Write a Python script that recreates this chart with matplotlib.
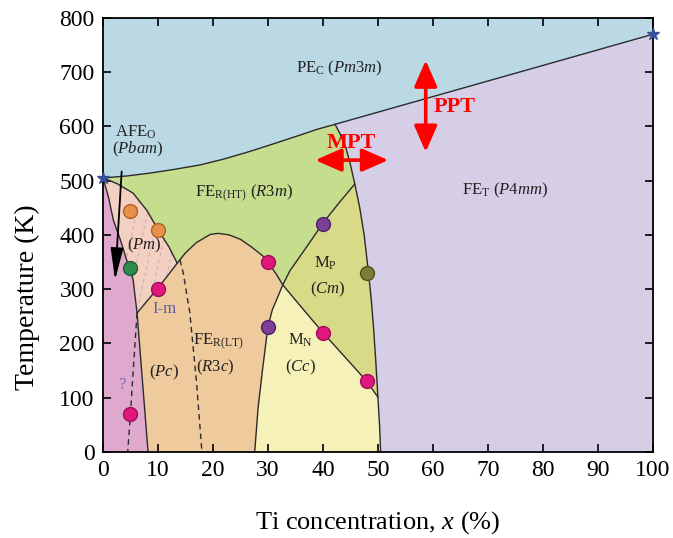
import matplotlib.pyplot as plt
from matplotlib.patches import Polygon

plt.rcParams['font.family'] = ['Liberation Serif', 'DejaVu Serif']
plt.rcParams['mathtext.fontset'] = 'custom'
plt.rcParams['mathtext.rm'] = 'Liberation Serif'
plt.rcParams['mathtext.it'] = 'Liberation Serif:italic'
plt.rcParams['mathtext.bf'] = 'Liberation Serif:bold'

# phase boundaries, Ti concentration (%) vs temperature (K)
cubic_x = [0, 4.5, 8.5, 13, 17.6, 22, 26.7, 31, 35.8, 39, 42.2, 100]
cubic_T = [505, 509, 514, 521, 529, 540, 554, 568, 584, 595, 604, 770]

afe_x = [0, 1.0, 1.9, 3.2, 4.3, 5.1, 5.5, 5.8, 6.2, 7.2, 8.2]
afe_T = [505, 470, 427, 390, 354, 330, 317, 290, 256, 128, 0]

pm_x = [0, 2.5, 5.5, 8, 10, 12, 13.5]
pm_T = [505, 495, 477, 445, 410, 378, 348]

dome_x = [6.2, 8, 10, 12, 13.5, 15, 17, 19.5, 21, 23, 25, 27, 29, 30, 31.5,
          32.7, 35, 40, 44, 48, 50]
dome_T = [256, 278, 302, 328, 348, 367, 386, 401, 403, 400, 392, 378, 362,
          350, 328, 308, 280, 220, 175, 130, 101]

mn_x = [27.6, 28.2, 29, 30, 30.8, 31.8, 32.7, 34, 35.8, 38, 40, 43, 45.8]
mn_T = [0, 80, 150, 231, 262, 286, 308, 334, 360, 392, 422, 460, 494]

fet_x = [42.2, 43.2, 44.2, 45.0, 45.8, 46.7, 47.5, 48.3, 48.8, 49.2, 49.6,
         50, 50.3, 50.5]
fet_T = [604, 585, 560, 530, 494, 450, 400, 330, 280, 230, 170, 101, 50, 0]

# dashed boundaries
dash1_x = [6.2, 5.5, 5.0, 4.5]
dash1_T = [256, 150, 70, 0]
dash2_x = [14.0, 14.6, 15.8, 17.0, 18.0]
dash2_T = [354, 330, 256, 130, 0]

# measured points
dot_x = [5, 10, 5, 10, 5, 30, 40, 48, 40, 30, 48]
dot_T = [445, 410, 340, 300, 70, 350, 220, 130, 420, 230, 330]
dot_c = ['#e8914a', '#e8914a', '#2e8b4e', '#e0177d', '#e0177d', '#e0177d',
         '#e0177d', '#e0177d', '#7b3f98', '#7b3f98', '#7c7c36']
dot_e = ['#b0602a', '#b0602a', '#1d5c33', '#a00d58', '#a00d58', '#a00d58',
         '#a00d58', '#a00d58', '#4e2466', '#4e2466', '#4f4f1e']

star_x = [0, 100]
star_T = [505, 770]


def pts(xs, ts):
    return list(zip(xs, ts))


def seg(c, xa, xb):
    xs = [p[0] for p in c]
    ia, ib = xs.index(xa), xs.index(xb)
    if ia <= ib:
        return c[ia:ib + 1]
    return c[ib:ia + 1][::-1]


cub = pts(cubic_x, cubic_T)
afe = pts(afe_x, afe_T)
pm = pts(pm_x, pm_T)
dome = pts(dome_x, dome_T)
mn = pts(mn_x, mn_T)
fet = pts(fet_x, fet_T)

fig = plt.figure(figsize=(6.73, 5.38), dpi=100)
ax = fig.add_axes([0.153, 0.160, 0.817, 0.8065])
ax.set_xlim(0, 100)
ax.set_ylim(0, 800)
ax.set_facecolor('#d6cde6')

ax.fill_between(cubic_x, cubic_T, 800, color='#bad9e5', lw=0)

regions = [
    (seg(cub, 0, 42.2) + seg(fet, 42.2, 50.5)[1:] + [(0, 0)], '#c6dd8e'),
    (seg(mn, 32.7, 45.8) + seg(fet, 45.8, 50)[1:] + seg(dome, 50, 32.7)[1:],
     '#d8da88'),
    (seg(mn, 27.6, 32.7) + seg(dome, 32.7, 50)[1:] + seg(fet, 50, 50.5)[1:],
     '#f6f1b8'),
    (seg(afe, 6.2, 8.2) + seg(mn, 27.6, 32.7) + seg(dome, 32.7, 6.2)[1:],
     '#efca9c'),
    (afe + [(0, 0)], '#dfa9cd'),
]
for verts, col in regions:
    ax.add_patch(Polygon(verts, closed=True, fc=col, ec='none'))

pm_patch = Polygon(pm + seg(dome, 13.5, 6.2)[1:] + seg(afe, 6.2, 0)[1:],
                   closed=True, fc='#f4d0c2', ec='none')
ax.add_patch(pm_patch)

# light dashed hatching inside the Pm region
for x0 in [2, 4, 6, 8, 10, 12]:
    ln, = ax.plot([x0, x0 + 5.8], [250, 520], color='#c4b3b0', lw=0.7,
                  ls=(0, (4, 3)))
    ln.set_clip_path(pm_patch)

for xs, ts in [(cubic_x, cubic_T), (afe_x, afe_T), (pm_x, pm_T),
               (dome_x, dome_T), (mn_x, mn_T), (fet_x, fet_T)]:
    ax.plot(xs, ts, color='#2b2b2b', lw=1.0, solid_joinstyle='round')

ax.plot(dash1_x, dash1_T, color='#2b2b2b', lw=1.0, ls=(0, (4, 3)))
ax.plot(dash2_x, dash2_T, color='#2b2b2b', lw=1.0, ls=(0, (4, 3)))

for x, t, c, e in zip(dot_x, dot_T, dot_c, dot_e):
    ax.plot(x, t, 'o', ms=10, mfc=c, mec=e, mew=1.0, zorder=5)

ax.plot(star_x, star_T, '*', ms=9, color='#3a4f9a', zorder=5, clip_on=False)

# black arrow AFE_O
ax.annotate('', xy=(2.2, 317), xytext=(3.4, 517),
            arrowprops=dict(arrowstyle='-|>,head_length=1.4,head_width=0.28',
                            color='black', lw=1.3, mutation_scale=14,
                            shrinkA=0, shrinkB=0))

# red arrows
ax.annotate('', xy=(58.7, 553), xytext=(58.7, 722),
            arrowprops=dict(arrowstyle='<|-|>,head_length=0.8,head_width=0.35',
                            color='#ff0000', lw=2.6, mutation_scale=20,
                            shrinkA=0, shrinkB=0))
ax.annotate('', xy=(38.6, 538), xytext=(51.9, 538),
            arrowprops=dict(arrowstyle='<|-|>,head_length=0.8,head_width=0.35',
                            color='#ff0000', lw=2.6, mutation_scale=20,
                            shrinkA=0, shrinkB=0))
ax.text(64, 636, 'PPT', color='#ff0000', fontsize=16, fontweight='bold',
        ha='center', va='center')
ax.text(45.1, 569, 'MPT', color='#ff0000', fontsize=16, fontweight='bold',
        ha='center', va='center')

fs = 12
tc = '#222222'
labels = [
    (43, 708, r'PE$_\mathrm{C}$ ($\mathit{Pm3m}$)'),
    (6.0, 590, r'AFE$_\mathrm{O}$'),
    (6.3, 557, r'($\mathit{Pbam}$)'),
    (25.7, 477, r'FE$_\mathrm{R(HT)}$ ($\mathit{R3m}$)'),
    (7.6, 380, r'($\mathit{Pm}$)'),
    (11.1, 146, r'($\mathit{Pc}$)'),
    (20.9, 203, r'FE$_\mathrm{R(LT)}$'),
    (20.4, 155, r'($\mathit{R3c}$)'),
    (36.0, 206, r'M$_\mathrm{N}$'),
    (36.0, 155, r'($\mathit{Cc}$)'),
    (40.4, 348, r'M$_\mathrm{P}$'),
    (40.9, 299, r'($\mathit{Cm}$)'),
    (73.2, 483, r'FE$_\mathrm{T}$ ($\mathit{P4mm}$)'),
]
for x, t, s in labels:
    ax.text(x, t, s, fontsize=fs, color=tc, ha='center', va='center')
ax.text(11.1, 264, 'I-m', fontsize=fs, color='#5a5aa8', ha='center', va='center')
ax.text(3.4, 123, '?', fontsize=fs, color='#7a6ab8', ha='center', va='center')

ax.set_xticks(range(0, 101, 10))
ax.set_yticks(range(0, 801, 100))
ax.tick_params(direction='in', top=True, right=True, length=6, width=1.2,
               labelsize=17, pad=6)
for sp in ax.spines.values():
    sp.set_linewidth(1.3)
ax.set_xlabel('Ti concentration, $\\mathit{x}$ (%)', fontsize=19, labelpad=20)
ax.set_ylabel('Temperature (K)', fontsize=20)
ax.yaxis.set_label_coords(-0.115, 0.357)

fig.savefig('out.png', dpi=100)
